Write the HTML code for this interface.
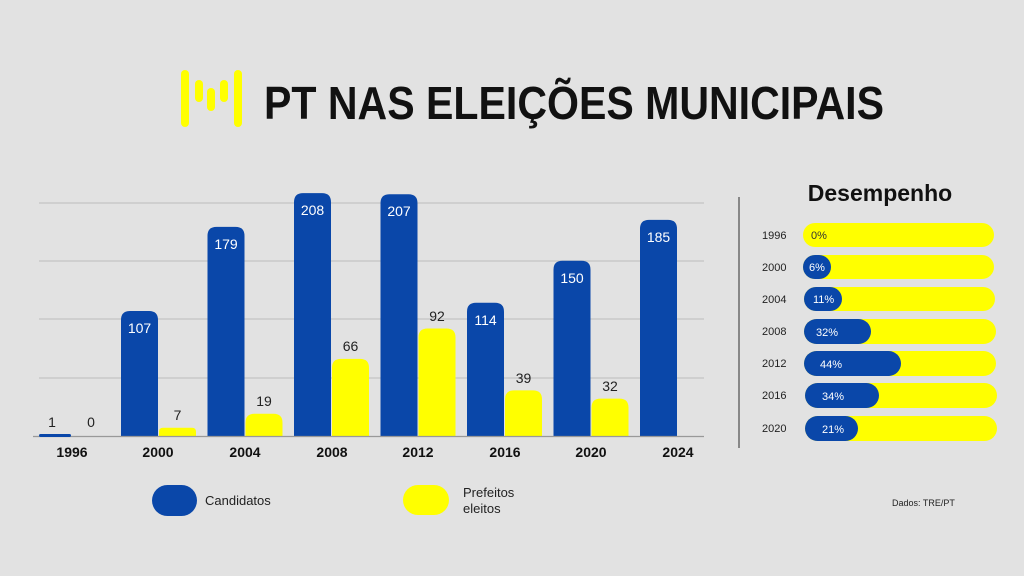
<!DOCTYPE html>
<html><head><meta charset="utf-8"><style>
html,body{margin:0;padding:0;background:#e2e2e2;}
svg{display:block;font-family:"Liberation Sans",sans-serif;}
</style></head><body>
<svg width="1024" height="576" viewBox="0 0 1024 576" xmlns="http://www.w3.org/2000/svg">
<rect width="1024" height="576" fill="#e2e2e2"/>
<g fill="#ffff00">
<rect x="181" y="70" width="8" height="57" rx="4"/>
<rect x="195" y="80" width="8" height="22" rx="4"/>
<rect x="207" y="88" width="8" height="23" rx="4"/>
<rect x="220" y="80" width="8" height="22" rx="4"/>
<rect x="234" y="70" width="8" height="57" rx="4"/>
</g>
<text x="264" y="119" font-size="46" font-weight="bold" fill="#111" textLength="620" lengthAdjust="spacingAndGlyphs">PT NAS ELEIÇÕES MUNICIPAIS</text>
<g stroke="#c4c4c4" stroke-width="1.2">
<line x1="39" y1="203" x2="704" y2="203"/>
<line x1="39" y1="261" x2="704" y2="261"/>
<line x1="39" y1="319" x2="704" y2="319"/>
<line x1="39" y1="378" x2="704" y2="378"/>
</g>
<g fill="#0a47a9">
<path d="M121 436V320Q121 311 130 311H149Q158 311 158 320V436Z"/>
<path d="M207.5 436V235.9Q207.5 226.9 216.5 226.9H235.5Q244.5 226.9 244.5 235.9V436Z"/>
<path d="M294 436V202.1Q294 193.1 303 193.1H322Q331 193.1 331 202.1V436Z"/>
<path d="M380.5 436V203.2Q380.5 194.2 389.5 194.2H408.5Q417.5 194.2 417.5 203.2V436Z"/>
<path d="M467 436V311.8Q467 302.8 476 302.8H495Q504 302.8 504 311.8V436Z"/>
<path d="M553.5 436V269.8Q553.5 260.8 562.5 260.8H581.5Q590.5 260.8 590.5 269.8V436Z"/>
<path d="M640 436V228.9Q640 219.9 649 219.9H668Q677 219.9 677 228.9V436Z"/>
</g>
<g fill="#ffff00">
<path d="M159 436V431.8Q159 427.8 163 427.8H192Q196 427.8 196 431.8V436Z"/>
<path d="M245.5 436V422.8Q245.5 413.8 254.5 413.8H273.5Q282.5 413.8 282.5 422.8V436Z"/>
<path d="M332 436V367.9Q332 358.9 341 358.9H360Q369 358.9 369 367.9V436Z"/>
<path d="M418.5 436V337.5Q418.5 328.5 427.5 328.5H446.5Q455.5 328.5 455.5 337.5V436Z"/>
<path d="M505 436V399.4Q505 390.4 514 390.4H533Q542 390.4 542 399.4V436Z"/>
<path d="M591.5 436V407.6Q591.5 398.6 600.5 398.6H619.5Q628.5 398.6 628.5 407.6V436Z"/>
</g>
<line x1="33" y1="436.5" x2="704" y2="436.5" stroke="#999" stroke-width="1.2"/>
<rect x="39" y="434" width="32" height="3" rx="1.5" fill="#0a47a9"/>
<g font-size="14" fill="#fff" text-anchor="middle">
<text x="139.5" y="333">107</text><text x="226" y="249">179</text><text x="312.5" y="215">208</text>
<text x="399" y="216">207</text><text x="485.5" y="325">114</text><text x="572" y="283">150</text>
<text x="658.5" y="242">185</text>
</g>
<g font-size="14" fill="#222" text-anchor="middle">
<text x="52" y="427">1</text><text x="91" y="427">0</text>
<text x="177.5" y="420">7</text><text x="264" y="406">19</text><text x="350.5" y="351">66</text>
<text x="437" y="321">92</text><text x="523.5" y="383">39</text><text x="610" y="391">32</text>
</g>
<g font-size="14" font-weight="bold" fill="#111" text-anchor="middle">
<text x="72" y="457">1996</text><text x="158" y="457">2000</text><text x="245" y="457">2004</text>
<text x="332" y="457">2008</text><text x="418" y="457">2012</text><text x="505" y="457">2016</text>
<text x="591" y="457">2020</text><text x="678" y="457">2024</text>
</g>
<rect x="152" y="485" width="45" height="31" rx="15.5" fill="#0a47a9"/>
<text x="205" y="505" font-size="13" fill="#222">Candidatos</text>
<rect x="403" y="485" width="46" height="30" rx="15" fill="#ffff00"/>
<text x="463" y="497" font-size="13" fill="#222">Prefeitos</text>
<text x="463" y="513" font-size="13" fill="#222">eleitos</text>
<text x="892" y="506" font-size="9" fill="#222">Dados: TRE/PT</text>
<line x1="739" y1="197" x2="739" y2="448" stroke="#888" stroke-width="2"/>
<text x="880" y="201" font-size="23" font-weight="bold" fill="#111" text-anchor="middle">Desempenho</text>
<g font-size="11" fill="#222">
<text x="762" y="239">1996</text><text x="762" y="271">2000</text><text x="762" y="303">2004</text>
<text x="762" y="335">2008</text><text x="762" y="367">2012</text><text x="762" y="399">2016</text>
<text x="762" y="432">2020</text>
</g>
<g fill="#ffff00">
<rect x="803" y="223" width="191" height="24" rx="12"/>
<rect x="803" y="255" width="191" height="24" rx="12"/>
<rect x="804" y="287" width="191" height="24" rx="12"/>
<rect x="804" y="319" width="192" height="25" rx="12.5"/>
<rect x="804" y="351" width="192" height="25" rx="12.5"/>
<rect x="805" y="383" width="192" height="25" rx="12.5"/>
<rect x="805" y="416" width="192" height="25" rx="12.5"/>
</g>
<g fill="#0a47a9">
<rect x="803" y="255" width="28" height="24" rx="12"/>
<rect x="804" y="287" width="38" height="24" rx="12"/>
<rect x="804" y="319" width="67" height="25" rx="12.5"/>
<rect x="804" y="351" width="97" height="25" rx="12.5"/>
<rect x="805" y="383" width="74" height="25" rx="12.5"/>
<rect x="805" y="416" width="53" height="25" rx="12.5"/>
</g>
<text x="811" y="239" font-size="11" fill="#333">0%</text>
<g font-size="11" fill="#fff">
<text x="809" y="271">6%</text><text x="813" y="303">11%</text><text x="816" y="336">32%</text>
<text x="820" y="368">44%</text><text x="822" y="400">34%</text><text x="822" y="433">21%</text>
</g>
</svg>
</body></html>
